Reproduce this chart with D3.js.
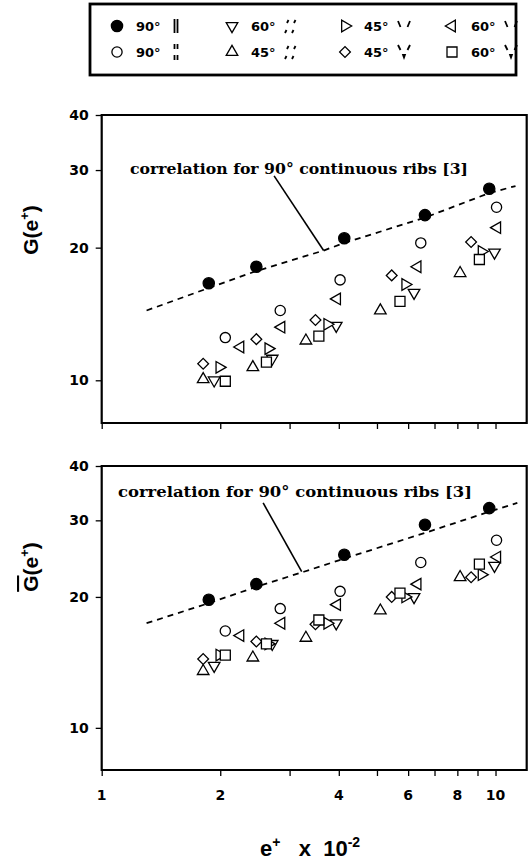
<!DOCTYPE html>
<html lang="en">
<head>
<meta charset="UTF-8">
<title>G(e+) vs e+</title>
<script src="https://d3js.org/d3.v7.min.js"></script>
<style>
    body { margin: 0; background: #fff; }
    svg { display: block; }
    .tick text { font-family: "DejaVu Sans", sans-serif; font-weight: bold; font-size: 14px; fill: #000; }
    .axis path.domain { display: none; }
    .axis line { stroke: #000; stroke-width: 1.3; }
</style>
</head>
<body>
<svg width="531" height="860"></svg>
<script>
    // ---- data ----
    const xTickValues = [1, 2, 3, 4, 5, 6, 7, 8, 9, 10];
    const xTickLabels = [1, 2, 4, 6, 8, 10];
    const yTickValues = [10, 20, 30, 40];

    // e+ x 10^-2 per configuration
    const eFilled90 = [1.87, 2.47, 4.13, 6.62, 9.64];
    const eOpen90   = [2.06, 2.84, 4.03, 6.46, 10.06];
    const eDown60   = [1.93, 2.71, 3.94, 6.21, 9.94];
    const eUp45     = [1.81, 2.42, 3.30, 5.10, 8.13];
    const eRight45  = [1.99, 2.65, 3.74, 5.90, 9.22];
    const eDiam45   = [1.81, 2.47, 3.49, 5.45, 8.67];
    const eLeft60   = [2.25, 2.86, 3.96, 6.34, 10.10];
    const eSquare60 = [2.06, 2.62, 3.56, 5.72, 9.10];

    // G(e+) (top panel)
    const gFilled90 = [16.6, 18.1, 21.0, 23.7, 27.2];
    const gOpen90   = [12.5, 14.4, 16.9, 20.5, 24.7];
    const gDown60   = [10.0, 11.2, 13.3, 15.8, 19.5];
    const gUp45     = [10.05, 10.7, 12.3, 14.4, 17.5];
    const gRight45  = [10.7, 11.8, 13.4, 16.5, 19.6];
    const gDiam45   = [10.9, 12.4, 13.7, 17.3, 20.6];
    const gLeft60   = [11.9, 13.2, 15.3, 18.1, 22.2];
    const gSquare60 = [9.95, 11.0, 12.6, 15.1, 18.8];

    // G-bar(e+) (bottom panel)
    const gbFilled90 = [19.7, 21.4, 25.0, 29.3, 32.0];
    const gbOpen90   = [16.7, 18.8, 20.6, 24.0, 27.0];
    const gbDown60   = [13.9, 15.6, 17.4, 20.0, 23.6];
    const gbUp45     = [13.5, 14.5, 16.1, 18.6, 22.2];
    const gbRight45  = [14.7, 15.6, 17.4, 20.0, 22.5];
    const gbDiam45   = [14.4, 15.8, 17.3, 20.0, 22.2];
    const gbLeft60   = [16.3, 17.4, 19.2, 21.4, 24.7];
    const gbSquare60 = [14.7, 15.6, 17.7, 20.4, 23.8];

    // correlation for 90 deg continuous ribs [3]
    const eCorrTop  = [1.30, 1.87, 2.47, 3.66, 4.13, 6.62, 9.64, 11.24];
    const gCorrTop  = [14.4, 16.2, 17.7, 19.7, 20.5, 23.4, 26.6, 27.6];
    const eCorrBot  = [1.30, 1.87, 2.47, 3.26, 4.13, 6.64, 9.64, 11.36];
    const gbCorrBot = [17.4, 19.35, 21.1, 22.85, 24.5, 28.1, 31.4, 32.9];

    const legendAngles = ["90°", "90°", "60°", "45°", "45°", "45°", "60°", "60°"];
    const legendRibs = ["solid", "broken", "slash", "slash", "vee", "veeBroken", "vee", "veeBroken"];
    const markerKinds = ["filled", "circle", "down", "up", "right", "diamond", "left", "square"];

    const eSets  = [eFilled90, eOpen90, eDown60, eUp45, eRight45, eDiam45, eLeft60, eSquare60];
    const gSets  = [gFilled90, gOpen90, gDown60, gUp45, gRight45, gDiam45, gLeft60, gSquare60];
    const gbSets = [gbFilled90, gbOpen90, gbDown60, gbUp45, gbRight45, gbDiam45, gbLeft60, gbSquare60];

    const svg = d3.select("svg");
    const plotLeft = 101.7, plotRight = 526.7;

    const x = d3.scaleLog().domain([1, 12]).range([plotLeft, plotRight]);

    const shapes = {
        filled:  [d3.symbolCircle, 100, 0],
        circle:  [d3.symbolCircle, 82, 0],
        down:    [d3.symbolTriangle, 58, 180],
        up:      [d3.symbolTriangle, 58, 0],
        right:   [d3.symbolTriangle, 58, 90],
        left:    [d3.symbolTriangle, 58, -90],
        diamond: [d3.symbolSquare, 58, 45],
        square:  [d3.symbolSquare, 100, 0]
    };

    function marker(sel, kind) {
        const s = shapes[kind];
        sel.append("path")
            .attr("d", d3.symbol().type(s[0]).size(s[1])())
            .attr("transform", `rotate(${s[2]})`)
            .attr("fill", kind === "filled" ? "#000" : "#fff")
            .attr("stroke", "#000")
            .attr("stroke-width", 1.3);
    }

    function panel(yTop, yBottom, ySets, eCorr, gCorr, label) {
        const y = d3.scaleLog().domain([8, 40]).range([yBottom, yTop]);
        const g = svg.append("g");

        // x ticks
        g.append("g")
            .attr("class", "axis")
            .attr("transform", `translate(0,${yBottom})`)
            .call(d3.axisBottom(x).tickValues(xTickValues).tickSize(6).tickFormat(""));

        // y ticks
        g.append("g")
            .attr("class", "axis")
            .attr("transform", `translate(${plotLeft},0)`)
            .call(d3.axisLeft(y).tickValues(yTickValues).tickSize(6).tickPadding(7).tickFormat(d3.format("d")));

        // frame
        g.append("path")
            .attr("d", `M${plotLeft},${yTop}H${plotRight}V${yBottom}H${plotLeft}Z`)
            .attr("fill", "none")
            .attr("stroke", "#000")
            .attr("stroke-width", 2.2);

        // correlation line
        const line = d3.line().x(d => x(d[0])).y(d => y(d[1]));
        g.append("path")
            .attr("d", line(d3.zip(eCorr, gCorr)))
            .attr("fill", "none").attr("stroke", "#000")
            .attr("stroke-width", 1.8).attr("stroke-dasharray", "6,5");

        // annotation
        g.append("line")
            .attr("x1", x(label.from[0])).attr("y1", y(label.from[1]))
            .attr("x2", x(label.to[0])).attr("y2", y(label.to[1]))
            .attr("stroke", "#000").attr("stroke-width", 1.6);
        g.append("text")
            .attr("x", x(label.at[0])).attr("y", y(label.at[1]))
            .attr("textLength", label.len).attr("lengthAdjust", "spacingAndGlyphs")
            .style("font-family", "'DejaVu Serif', serif").style("font-weight", "bold")
            .style("font-size", "14px")
            .text("correlation for 90° continuous ribs [3]");

        // markers
        markerKinds.forEach((kind, i) => {
            g.append("g").selectAll("g")
                .data(d3.zip(eSets[i], ySets[i])).join("g")
                .attr("transform", d => `translate(${x(d[0])},${y(d[1])})`)
                .each(function() { marker(d3.select(this), kind); });
        });
    }

    panel(115, 423, gSets, eCorrTop, gCorrTop,
        { from: [2.74, 29.1], to: [3.66, 19.7], at: [1.18, 29.4], len: 338 });
    panel(466, 770, gbSets, eCorrBot, gbCorrBot,
        { from: [2.57, 32.9], to: [3.22, 22.86], at: [1.10, 33.9], len: 354 });

    // x tick labels (bottom panel only)
    svg.append("g").selectAll("text")
        .data(xTickLabels).join("text")
        .attr("x", d => x(d)).attr("y", 800)
        .attr("text-anchor", "middle")
        .style("font-family", "'DejaVu Sans', sans-serif")
        .style("font-weight", "bold").style("font-size", "14px")
        .text(d => d);

    // axis titles
    const title = svg.append("text")
        .attr("x", 310).attr("y", 856)
        .attr("text-anchor", "middle")
        .style("font-family", "'Liberation Sans', Arial, sans-serif")
        .style("font-weight", "bold").style("font-size", "22px");
    title.append("tspan").text("e");
    title.append("tspan").attr("dy", -9).style("font-size", "14px").text("+");
    title.append("tspan").attr("dy", 9).attr("xml:space", "preserve").text("   x  10");
    title.append("tspan").attr("dy", -9).style("font-size", "14px").text("-2");

    function yTitle(cy, bar) {
        const t = svg.append("text")
            .attr("transform", `translate(38,${cy}) rotate(-90)`)
            .attr("text-anchor", "middle")
            .style("font-family", "'Liberation Sans', Arial, sans-serif")
            .style("font-weight", "bold").style("font-size", "21px");
        t.append("tspan").style("text-decoration", bar ? "overline" : "none").text("G");
        t.append("tspan").text("(e");
        t.append("tspan").attr("dy", -9).style("font-size", "13px").text("+");
        t.append("tspan").attr("dy", 9).text(")");
    }
    yTitle(230, false);
    yTitle(567, true);

    // ---- legend ----
    const legend = svg.append("g");
    legend.append("rect")
        .attr("x", 90).attr("y", 4).attr("width", 426).attr("height", 71)
        .attr("fill", "none").attr("stroke", "#000").attr("stroke-width", 2.8);

    const colX = [117, 232, 345, 452];
    const rowY = [26, 52];

    function ribGlyph(gl, kind) {
        const seg = (x1, y1, x2, y2) => gl.append("line")
            .attr("x1", x1).attr("y1", y1).attr("x2", x2).attr("y2", y2)
            .attr("stroke", "#000").attr("stroke-width", 1.8);
        if (kind === "solid") {
            seg(-1.5, -7, -1.5, 7); seg(1.5, -7, 1.5, 7);
        } else if (kind === "broken") {
            seg(-1.5, -8, -1.5, -3); seg(1.5, -8, 1.5, -3);
            seg(-1.5, 3, -1.5, 8); seg(1.5, 3, 1.5, 8);
        } else if (kind === "slash") {
            seg(-4, -3, -2.5, -6); seg(3, -3, 4.5, -6);
            seg(-6, 7, -4.5, 4); seg(1, 7, 2.5, 4);
        } else if (kind === "vee") {
            seg(-6, -5, -3.5, 1); seg(3.5, 1, 6, -5);
        } else {
            seg(-6, -7, -3.5, -2); seg(3.5, -2, 6, -7);
            gl.append("path").attr("d", "M-2.2,2 L2.2,2 L0,8 Z").attr("fill", "#000");
        }
    }

    markerKinds.forEach((kind, i) => {
        const cx = colX[Math.floor(i / 2)];
        const cy = rowY[i % 2];
        const item = legend.append("g").attr("transform", `translate(${cx},${cy})`);
        marker(item.append("g"), kind);
        item.append("text")
            .attr("x", 19).attr("y", 5)
            .style("font-family", "'DejaVu Sans', sans-serif")
            .style("font-weight", "bold").style("font-size", "13px")
            .text(legendAngles[i]);
        ribGlyph(item.append("g").attr("transform", "translate(59,0)"), legendRibs[i]);
    });
</script>
</body>
</html>
